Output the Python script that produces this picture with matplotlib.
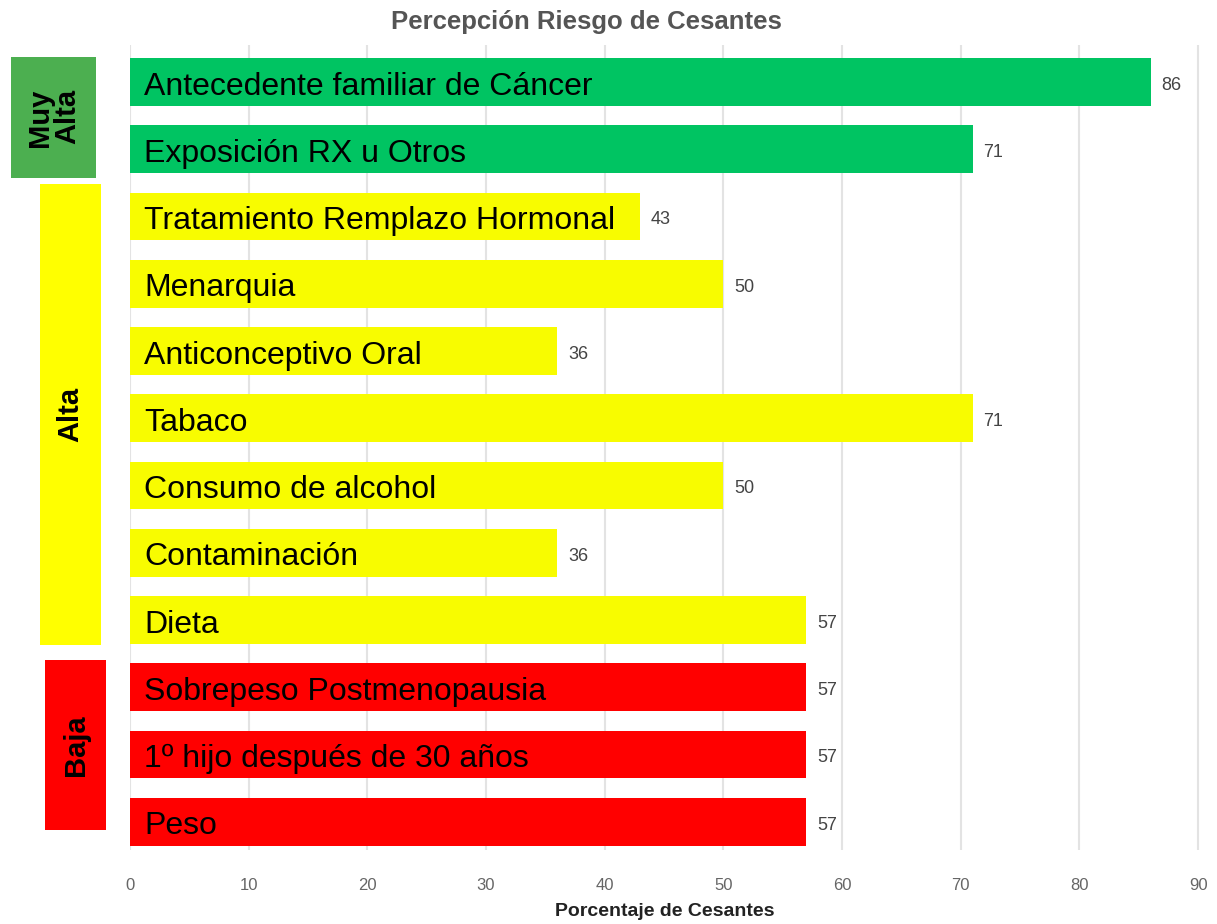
import matplotlib.pyplot as plt
import matplotlib.patches as mpatches
import matplotlib.transforms as mtransforms

# Datos
factores = ["Antecedente familiar de Cáncer", "Exposición RX u Otros",
            "Tratamiento Remplazo Hormonal", "Menarquia", "Anticonceptivo Oral",
            "Tabaco", "Consumo de alcohol", "Contaminación", "Dieta",
            "Sobrepeso Postmenopausia", "1º hijo después de 30 años", "Peso"]
porcentajes = [86, 71, 43, 50, 36, 71, 50, 36, 57, 57, 57, 57]
niveles = ["Muy Alta", "Muy Alta", "Alta", "Alta", "Alta", "Alta", "Alta",
           "Alta", "Alta", "Baja", "Baja", "Baja"]
ticks_x = [0, 10, 20, 30, 40, 50, 60, 70, 80, 90]

colores_barra = {"Muy Alta": "#00C462", "Alta": "#F8FC00", "Baja": "#FF0000"}
# etiqueta, color de la caja, x izquierda / derecha (px), margen arriba / abajo
cajas = {
    "Muy Alta": ("Muy\nAlta", "#4CAF50", 11, 96, 0.37, 0.43),
    "Alta": ("Alta", "#FFFF00", 40, 101, 0.48, 0.37),
    "Baja": ("Baja", "#FF0000", 45, 106, 0.40, 0.12),
}

plt.rcParams['font.family'] = ['Liberation Sans', 'DejaVu Sans']

W, H = 1217, 924
fig = plt.figure(figsize=(W / 100, H / 100), dpi=100)
ax = fig.add_axes([130 / W, 1 - 850 / H, (1210 - 130) / W, (850 - 45) / H])

y = list(range(len(factores)))
colores = [colores_barra[n] for n in niveles]
ax.barh(y, porcentajes, height=0.71, color=colores, zorder=2)

for yi, nombre, val in zip(y, factores, porcentajes):
    ax.text(1.2, yi + 0.07, nombre, fontsize=23, color='black', va='center', ha='left', zorder=3)
    ax.text(val + 0.9, yi + 0.05, str(val), fontsize=13, color='#444444', va='center', ha='left')

ax.set_xlim(0, 91)
ax.set_ylim(len(factores) - 1 + 0.42, -0.55)
ax.set_xticks(ticks_x)
ax.set_yticks([])
ax.tick_params(axis='x', length=0, pad=20, labelsize=12, labelcolor='#666666')
ax.grid(axis='x', color='#E3E3E3', linewidth=1.5, zorder=0)
ax.set_axisbelow(True)
for s in ax.spines.values():
    s.set_visible(False)

# cajas de nivel a la izquierda
trans = mtransforms.blended_transform_factory(fig.transFigure, ax.transData)
for nivel, (texto, color, x0, x1, pad_t, pad_b) in cajas.items():
    idx = [i for i, n in enumerate(niveles) if n == nivel]
    y0 = idx[0] - pad_t
    y1 = idx[-1] + pad_b
    rect = mpatches.Rectangle((x0 / W, y0), (x1 - x0) / W, y1 - y0, transform=trans,
                              facecolor=color, edgecolor='none', clip_on=False)
    fig.add_artist(rect)
    fig.text((x0 + x1) / 2 / W, (y0 + y1) / 2, texto, transform=trans, rotation=90,
             fontsize=21, fontweight='bold', ha='center', va='center',
             linespacing=0.95, multialignment='right')

fig.text(586 / W, 1 - 22 / H, "Percepción Riesgo de Cesantes", fontsize=18.5,
         fontweight='bold', color='#555555', ha='center', va='center')
fig.text(665 / W, 1 - 911 / H, "Porcentaje de Cesantes", fontsize=14,
         fontweight='bold', color='#222222', ha='center', va='center')

fig.savefig("out.png", dpi=100)
